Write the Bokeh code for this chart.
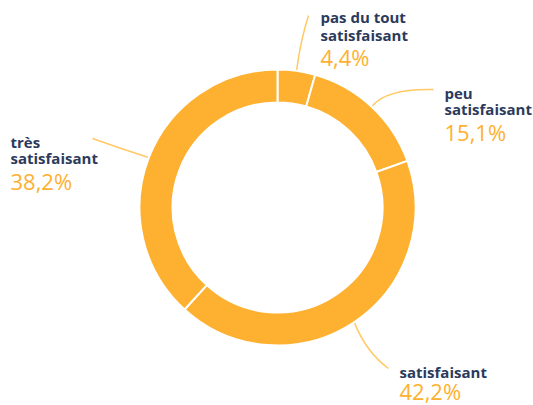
import numpy as np
from bokeh.plotting import figure
from bokeh.models import Range1d
from bokeh.core.properties import value
from bokeh.embed import file_html
from bokeh.resources import INLINE

# ---- data ----
categories = ["pas du tout satisfaisant", "peu satisfaisant", "satisfaisant", "très satisfaisant"]
label_lines = [["pas du tout", "satisfaisant"], ["peu", "satisfaisant"], ["satisfaisant"], ["très", "satisfaisant"]]
percents = [4.4, 15.1, 42.2, 38.2]
pct_labels = ["4,4%", "15,1%", "42,2%", "38,2%"]

ORANGE = "#FEB130"
NAVY = "#2B3A5C"
LEAD = "#FFC965"

W, H = 533, 405

p = figure(width=W, height=H, output_backend="svg", toolbar_location=None,
           x_range=Range1d(0, W), y_range=Range1d(0, H),
           min_border=0, background_fill_color="white", border_fill_color="white")
p.axis.visible = False
p.grid.visible = False
p.outline_line_color = None

def Y(sy):
    return H - sy

cx, cy = 277, Y(207)
r_in, r_out = 105, 138

vals = np.array(percents)
frac = vals / vals.sum()
cum = np.concatenate([[0], np.cumsum(frac)])
start = np.pi / 2 - cum[:-1] * 2 * np.pi
end = np.pi / 2 - cum[1:] * 2 * np.pi
mid = (start + end) / 2

p.annular_wedge(x=cx, y=cy, inner_radius=r_in, outer_radius=r_out,
                start_angle=start.tolist(), end_angle=end.tolist(), direction="clock",
                fill_color=ORANGE, line_color="white", line_width=2)

# leader lines: start at ring edge on slice mid-angle
sx = cx + (r_out + 1) * np.cos(mid)
sy = cy + (r_out + 1) * np.sin(mid)
ends = [(308, Y(15)), (433, Y(89)), (388, Y(368)), (92, Y(138))]
ctrls = [(300, Y(40)), (386, Y(88)), (366, Y(352)), (120, Y(148))]
for i in range(4):
    p.quadratic(x0=sx[i], y0=sy[i], x1=ends[i][0], y1=ends[i][1],
                cx=ctrls[i][0], cy=ctrls[i][1], line_color=LEAD, line_width=1.5)

# labels (baseline positions, corrected for renderer offset)
LAB_FS, PCT_FS = 15, 22
lab_off = 0.45 * LAB_FS
pct_off = 0.45 * PCT_FS
label_pos = [(320, [23, 41], 66), (444, [99, 115], 141), (399, [378], 400), (10, [148, 164], 190)]
for i, (lx, lys, py) in enumerate(label_pos):
    for txt, ly in zip(label_lines[i], lys):
        p.text(x=[lx], y=[Y(ly - lab_off)], text=[txt], text_font=value("Open Sans"),
               text_font_style="bold", text_font_size=f"{LAB_FS}px", text_color=NAVY,
               text_baseline="alphabetic", text_align="left")
    p.text(x=[lx], y=[Y(py - pct_off)], text=[pct_labels[i]], text_font=value("Open Sans"),
           text_font_size=f"{PCT_FS}px", text_color=ORANGE,
           text_baseline="alphabetic", text_align="left")

open("out.html", "w").write(file_html(p, INLINE))
